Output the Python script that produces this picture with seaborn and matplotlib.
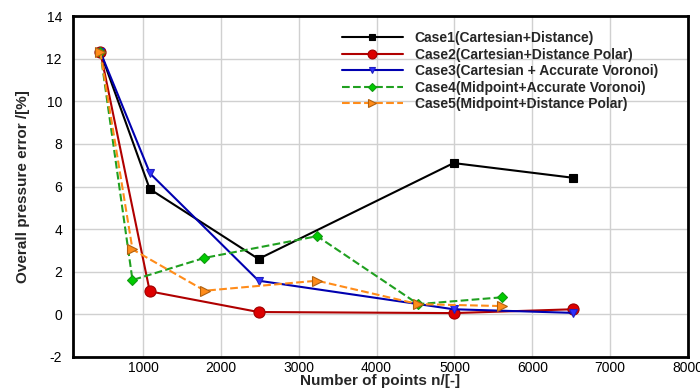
import matplotlib
matplotlib.use("Agg")
import matplotlib.pyplot as plt
import seaborn as sns
import pandas as pd
from matplotlib.ticker import MultipleLocator

# Data
case1_x = [450, 1086, 2483, 4989, 6522]
case1_y = [12.33, 5.88, 2.60, 7.10, 6.41]
case2_x = [450, 1086, 2483, 4989, 6525]
case2_y = [12.33, 1.08, 0.11, 0.06, 0.24]
case3_x = [450, 1090, 2483, 4989, 6525]
case3_y = [12.33, 6.61, 1.58, 0.24, 0.07]
case4_x = [450, 864, 1789, 3236, 4534, 5606]
case4_y = [12.33, 1.61, 2.65, 3.67, 0.48, 0.80]
case5_x = [450, 864, 1793, 3236, 4534, 5606]
case5_y = [12.33, 3.05, 1.11, 1.58, 0.48, 0.39]
labels = ["Case1(Cartesian+Distance)",
          "Case2(Cartesian+Distance Polar)",
          "Case3(Cartesian + Accurate Voronoi)",
          "Case4(Midpoint+Accurate Voronoi)",
          "Case5(Midpoint+Distance Polar)"]

sns.set_style("white")
plt.rcParams['font.family'] = ['Liberation Sans', 'DejaVu Sans']
plt.rcParams['axes.unicode_minus'] = False

fig = plt.figure(figsize=(7, 3.88), dpi=100)
ax = fig.add_axes([73/700, 1-357/388, (688-73)/700, (357-16)/388])

styles = [
    dict(color="black", marker="s", linestyle="-", markersize=5.5,
         markerfacecolor="black", markeredgecolor="black"),
    dict(color="#B00000", marker="o", linestyle="-", markersize=8,
         markerfacecolor="#DD0000", markeredgecolor="#A00000"),
    dict(color="#0000B0", marker="v", linestyle="-", markersize=6,
         markerfacecolor="#3030FF", markeredgecolor="#2020C0"),
    dict(color="#20A020", marker="D", linestyle="--", markersize=5.5,
         markerfacecolor="#00CC00", markeredgecolor="#119911"),
    dict(color="#FF8C1A", marker=">", linestyle="--", markersize=7,
         markerfacecolor="#FF8C1A", markeredgecolor="#B06010"),
]
series = [(case1_x, case1_y), (case2_x, case2_y), (case3_x, case3_y),
          (case4_x, case4_y), (case5_x, case5_y)]

for (xs, ys), lab, st in zip(series, labels, styles):
    df = pd.DataFrame({"n": xs, "err": ys})
    sns.lineplot(data=df, x="n", y="err", ax=ax, sort=False, label=lab,
                 linewidth=1.5, markeredgewidth=0.8, **st)

ax.set_xlim(100, 8000)
ax.set_ylim(-2, 14)
ax.xaxis.set_minor_locator(MultipleLocator(200))
ax.yaxis.set_major_locator(MultipleLocator(2))
ax.yaxis.set_minor_locator(MultipleLocator(0.4))
ax.set_xticks([1000, 2000, 3000, 4000, 5000, 6000, 7000, 8000])
ax.grid(True, which="major", color="#d0d0d0", linewidth=1)
ax.set_axisbelow(True)

for sp in ax.spines.values():
    sp.set_linewidth(2)
    sp.set_color("black")
ax.tick_params(axis="both", which="major", direction="in", length=6, width=1.6,
               labelsize=10, colors="black", top=False, right=False)
ax.tick_params(axis="x", which="major", pad=3)
ax.tick_params(axis="y", which="major", pad=8)
ax.tick_params(axis="both", which="minor", direction="in", length=3.5, width=1.2,
               top=False, right=False)

ax.set_xlabel("Number of points n/[-]", fontsize=11, fontweight="bold", labelpad=-1)
ax.set_ylabel("Overall pressure error /[%]", fontsize=11, fontweight="bold", labelpad=12)

leg = ax.legend(loc="upper left", bbox_to_anchor=(0.437, 0.956), frameon=False,
                fontsize=10, handlelength=4.4, handletextpad=0.85,
                labelspacing=0.18, borderaxespad=0, borderpad=0, markerscale=0.8)
for t in leg.get_texts():
    t.set_fontweight("bold")

fig.savefig("out.png", dpi=100)
